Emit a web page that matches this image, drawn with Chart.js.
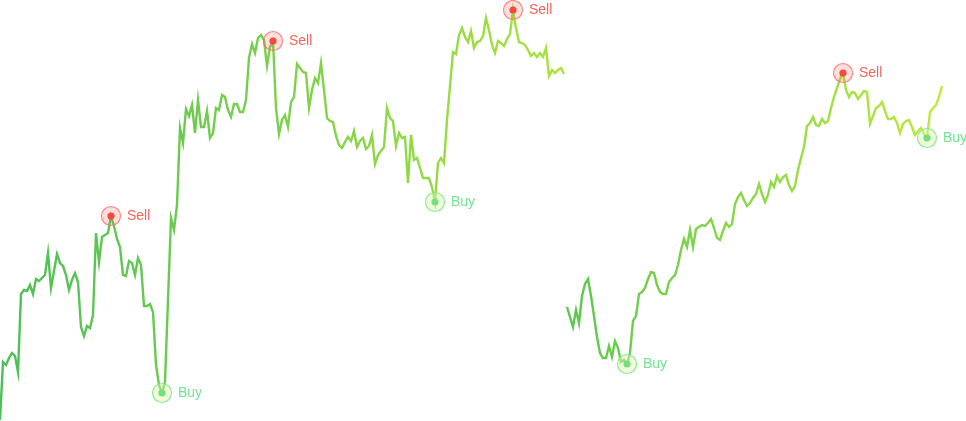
<!DOCTYPE html>
<html>
<head>
<meta charset="utf-8">
<script src="https://cdn.jsdelivr.net/npm/chart.js@4.4.1/dist/chart.umd.min.js"></script>
<style>
  html, body { margin: 0; padding: 0; background: #ffffff; }
  #wrap { width: 966px; height: 421px; position: relative; }
</style>
</head>
<body>
<div id="wrap"><canvas id="priceChart"></canvas></div>
<script>
// price series, first run (before the break)
const firstRun = [
  1, 59, 56, 63, 68, 65, 49, 127, 131, 130,
  136, 127, 142, 140, 143, 146, 168, 133, 150, 167,
  158, 155, 146, 131, 141, 148, 139, 94, 85, 95,
  93, 106, 188, 159, 184, 186, 188, 205, 195, 182,
  174, 146, 145, 160, 158, 146, 163, 156, 115, 115,
  117, 109, 56, 36, 28, 39, 121, 203, 191, 216,
  293, 278, 312, 305, 316, 288, 321, 294, 294, 310,
  283, 288, 313, 311, 326, 324, 311, 304, 317, 317,
  309, 309, 321, 363, 377, 368, 383, 386, 381, 355,
  374, 380, 313, 287, 301, 306, 294, 319, 324, 357,
  353, 349, 348, 313, 331, 343, 338, 358, 331, 303,
  300, 299, 285, 276, 273, 279, 284, 280, 290, 274,
  280, 283, 272, 275, 286, 257, 266, 270, 274, 313,
  303, 300, 275, 288, 283, 284, 238, 286, 261, 263,
  253, 243, 243, 243, 234, 219, 258, 263, 258, 301,
  335, 369, 367, 386, 393, 384, 379, 390, 373, 379,
  380, 385, 403, 391, 376, 368, 380, 378, 375, 382,
  387, 411, 393, 379, 378, 376, 371, 365, 368, 364,
  368, 364, 373, 345, 351, 348, 351, 353, 347
];

// price series, second run (after the break)
const secondRun = [
  114, 104, 94, 111, 98, 125, 137, 142, 125, 105,
  84, 68, 63, 63, 75, 64, 80, 73, 59, 61,
  57, 68, 100, 105, 127, 129, 133, 142, 149, 148,
  136, 129, 127, 127, 139, 143, 146, 156, 171, 182,
  174, 191, 174, 192, 194, 196, 195, 198, 202, 193,
  183, 181, 190, 198, 194, 197, 217, 224, 228, 221,
  215, 218, 223, 227, 237, 227, 219, 226, 239, 234,
  245, 239, 244, 246, 236, 230, 235, 251, 263, 274,
  295, 298, 304, 296, 295, 302, 298, 300, 313, 324,
  333, 342, 348, 331, 324, 329, 328, 322, 326, 330,
  329, 297, 305, 313, 315, 319, 310, 302, 302, 304,
  298, 288, 297, 300, 301, 294, 286, 290, 293, 287,
  283, 309, 313, 316, 324, 335
];

// signal positions (index into the full series)
const buyPoints = [54, 145, 209, 309];
const sellPoints = [37, 91, 171, 281];

const totalLen = firstRun.length + secondRun.length;
const labels = Array.from({ length: totalLen }, (_, i) => 'T' + (i + 1));

const firstData = firstRun.concat(Array(secondRun.length).fill(null));
const secondData = Array(firstRun.length).fill(null).concat(secondRun);

function valueAt(i) {
  return i < firstRun.length ? firstRun[i] : secondRun[i - firstRun.length];
}

// horizontal gradient spanning only the run's own points
function runGradient(ctx, from, to, c0, c1) {
  const chart = ctx.chart;
  if (!chart.chartArea) return c0;
  const xs = chart.scales.x;
  const x0 = xs.getPixelForValue(from);
  const x1 = xs.getPixelForValue(to);
  const g = chart.ctx.createLinearGradient(x0, 0, x1, 0);
  g.addColorStop(0, c0);
  g.addColorStop(1, c1);
  return g;
}

const signalPlugin = {
  id: 'signals',
  afterDatasetsDraw(chart) {
    const { ctx, scales } = chart;
    const draw = (idx, kind) => {
      const x = scales.x.getPixelForValue(idx);
      const y = scales.y.getPixelForValue(valueAt(idx));
      const sell = kind === 'Sell';
      ctx.save();
      ctx.beginPath();
      ctx.arc(x, y, 9.5, 0, Math.PI * 2);
      ctx.fillStyle = sell ? 'rgba(255, 95, 85, 0.2)' : 'rgba(225, 245, 170, 0.45)';
      ctx.fill();
      ctx.lineWidth = 1.2;
      ctx.strokeStyle = sell ? 'rgba(250, 110, 100, 0.8)' : 'rgba(130, 232, 150, 0.9)';
      ctx.stroke();
      ctx.beginPath();
      ctx.arc(x, y, 3.6, 0, Math.PI * 2);
      ctx.fillStyle = sell ? '#f4493f' : '#72e07c';
      ctx.fill();
      ctx.font = '14px "Liberation Sans", Arial, sans-serif';
      ctx.textAlign = 'left';
      ctx.textBaseline = 'middle';
      ctx.fillStyle = sell ? '#f3635b' : '#6fe68f';
      ctx.fillText(kind, x + 16, y + 0.5);
      ctx.restore();
    };
    buyPoints.forEach(i => draw(i, 'Buy'));
    sellPoints.forEach(i => draw(i, 'Sell'));
  }
};

new Chart(document.getElementById('priceChart'), {
  type: 'line',
  data: {
    labels,
    datasets: [
      {
        data: firstData,
        borderWidth: 2.4,
        borderColor: ctx => runGradient(ctx, 0, firstRun.length - 1, '#4cbf58', '#abe33b'),
        pointRadius: 0,
        tension: 0,
        spanGaps: false,
        clip: false
      },
      {
        data: secondData,
        borderWidth: 2.4,
        borderColor: ctx => runGradient(ctx, firstRun.length, totalLen - 1, '#5cc750', '#c0ea3a'),
        pointRadius: 0,
        tension: 0,
        spanGaps: false,
        clip: false
      }
    ]
  },
  options: {
    responsive: true,
    maintainAspectRatio: false,
    animation: false,
    layout: { padding: { left: 0, right: 24, top: 0, bottom: 0 } },
    plugins: { legend: { display: false }, tooltip: { enabled: false } },
    scales: {
      x: { display: false, offset: false },
      y: { display: false, min: 0, max: 421 }
    }
  },
  plugins: [signalPlugin]
});
</script>
</body>
</html>
